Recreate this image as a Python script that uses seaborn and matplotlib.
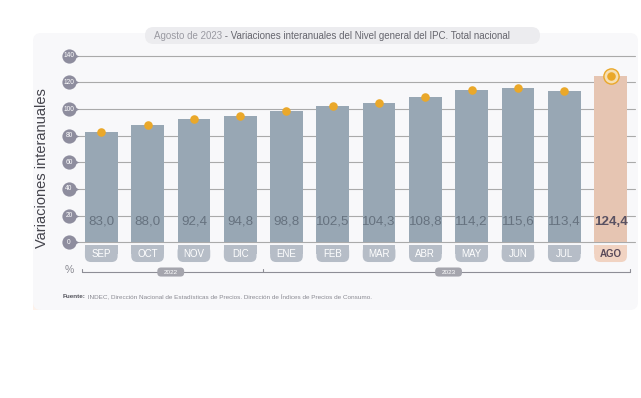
import numpy as np
import pandas as pd
import matplotlib
matplotlib.use("Agg")
import matplotlib.pyplot as plt
from matplotlib.patches import FancyBboxPatch, Rectangle
import seaborn as sns

# ---- data ----
months = ["SEP", "OCT", "NOV", "DIC", "ENE", "FEB", "MAR", "ABR", "MAY", "JUN", "JUL", "AGO"]
values = [83.0, 88.0, 92.4, 94.8, 98.8, 102.5, 104.3, 108.8, 114.2, 115.6, 113.4, 124.4]
years = ["2022", "2023"]
year_spans = [(0, 3), (4, 11)]
yticks = [0, 20, 40, 60, 80, 100, 120, 140]
title_a = "Agosto de 2023"
title_b = " - Variaciones interanuales del Nivel general del IPC. Total nacional"
source_bold = "Fuente:"
source_rest = " INDEC, Dirección Nacional de Estadísticas de Precios. Dirección de Índices de Precios de Consumo."
ylabel = "Variaciones interanuales"

df = pd.DataFrame({"mes": months, "valor": values})

sns.set_theme(style="white")
plt.rcParams["font.family"] = ["Liberation Sans", "DejaVu Sans"]

W, H = 641, 398
fig = plt.figure(figsize=(W / 100, H / 100), dpi=100)
fig.patch.set_facecolor("white")

# background decoration axes in pixel coords
bg = fig.add_axes([0, 0, 1, 1], zorder=0)
bg.set_xlim(0, W)
bg.set_ylim(H, 0)
bg.axis("off")
bg.add_patch(FancyBboxPatch((33, 33), 605, 277, boxstyle="round,pad=0,rounding_size=8",
                            fc="#f8f8fa", ec="none"))
grad = np.zeros((2, 40, 4))
grad[..., 0] = 252 / 255
grad[..., 1] = 232 / 255
grad[..., 2] = 220 / 255
grad[..., 3] = np.linspace(0.55, 0.0, 40)[None, :]
bg.imshow(grad, extent=(33, 73, 310, 40), aspect="auto", interpolation="bilinear")
bg.add_patch(FancyBboxPatch((145, 27), 395, 17, boxstyle="round,pad=0,rounding_size=8.5",
                            fc="#ececef", ec="none"))
t1 = bg.text(154, 36, title_a, fontsize=7, color="#9a9aa2", va="center", ha="left")
bg.annotate(title_b, xy=(1, 0.5), xycoords=t1, va="center", ha="left", fontsize=7, color="#66666e")
s1 = bg.text(63, 296, source_bold, fontsize=4.6, color="#55555d", fontweight="bold", va="center")
bg.annotate(source_rest, xy=(1, 0.5), xycoords=s1, va="center", ha="left", fontsize=4.6, color="#8a8a92")
bg.text(42, 168, ylabel, rotation=90, fontsize=10.5, color="#44444c", ha="center", va="center")

# main axes
x0, x1 = 76, 635
y0, y1 = 55.7, 242.3
ax = fig.add_axes([x0 / W, 1 - y1 / H, (x1 - x0) / W, (y1 - y0) / H], zorder=1)
ax.patch.set_alpha(0)

bar_colors = ["#98a7b4"] * (len(months) - 1) + ["#e6c5b2"]
sns.barplot(data=df, x="mes", y="valor", hue="mes", palette=bar_colors, legend=False,
            width=0.706, ax=ax, saturation=1, alpha=1, linewidth=0)
for p in ax.patches:
    p.set_zorder(3)
    p.set_alpha(1)
ax.set_xlim(-0.546, 11.527)
ax.set_ylim(0, 140)
ax.grid(False)
for t in yticks:
    ax.axhline(t, color="#aaaaaa", linewidth=0.8, zorder=1, clip_on=False)
for sp in ax.spines.values():
    sp.set_visible(False)
ax.tick_params(left=False, bottom=False, labelleft=False, labelbottom=False)
ax.set_xlabel("")
ax.set_ylabel("")

xs = np.arange(len(months))
# dots
ax.scatter(xs, values, s=38, color="#eaa82a", zorder=5, clip_on=False, linewidths=0)
ax.scatter([xs[-1]], [values[-1]], s=120, facecolor="#f6dfb3", edgecolor="#eaa82a",
           linewidths=1.0, zorder=4, clip_on=False)

# value labels
for i, v in enumerate(values):
    last = i == len(values) - 1
    ax.text(i, 15.5, f"{v:.1f}".replace(".", ","), ha="center", va="center",
            fontsize=9.6, color="#5a5262" if last else "#66727f",
            fontweight="bold" if last else "normal", zorder=6)

# y tick badges
for t in yticks:
    ax.scatter([-0.57], [t], marker=">", s=30, color="#8e8d9e", clip_on=False, zorder=4, linewidths=0)
    ax.scatter([-0.698], [t], marker="o", s=105, color="#8e8d9e", clip_on=False, zorder=5, linewidths=0)
    ax.text(-0.698, t, str(t), fontsize=4.8, color="white", ha="center", va="center",
            zorder=6, clip_on=False)

# month boxes
bw = 0.706
asp = (46.3 / 1.333)
for i, m in enumerate(months):
    last = i == len(months) - 1
    fc = "#f1d3c2" if last else "#b6bdc7"
    p = FancyBboxPatch((i - bw / 2, -14.8), bw, 12.6,
                       boxstyle="round,pad=0,rounding_size=0.13", mutation_aspect=asp,
                       fc=fc, ec="none", clip_on=False, zorder=3)
    ax.add_patch(p)
    ax.add_patch(Rectangle((i - bw / 2, -8.5), bw, 6.3, fc=fc, ec="none", clip_on=False, zorder=3))
    ax.text(i, -8.6, m, ha="center", va="center", fontsize=7,
            color="#5a4a5a" if last else "white", fontweight="bold" if last else "normal",
            zorder=4, clip_on=False)

# percent sign
ax.text(-0.7, -20.8, "%", ha="center", va="center", fontsize=7.5, color="#8a8a92", clip_on=False)

# year brackets
yl = -22.3
lc = "#8e8e96"
ax.plot([-0.42, 11.41], [yl, yl], color=lc, linewidth=0.8, clip_on=False, zorder=2)
for xv in [-0.42, 3.49, 11.41]:
    ax.plot([xv, xv], [yl, yl + 2.2], color=lc, linewidth=0.8, clip_on=False, zorder=2)
for yr, (a, b) in zip(years, year_spans):
    c = (a + b) / 2
    ax.add_patch(FancyBboxPatch((c - 0.29, yl - 3.4), 0.58, 6.8,
                                boxstyle="round,pad=0,rounding_size=0.08", mutation_aspect=asp,
                                fc="#a5a5ad", ec="none", clip_on=False, zorder=3))
    ax.text(c, yl, yr, fontsize=4.6, color="white", ha="center", va="center", zorder=4, clip_on=False)

fig.savefig("out.png", dpi=100, facecolor="white")
